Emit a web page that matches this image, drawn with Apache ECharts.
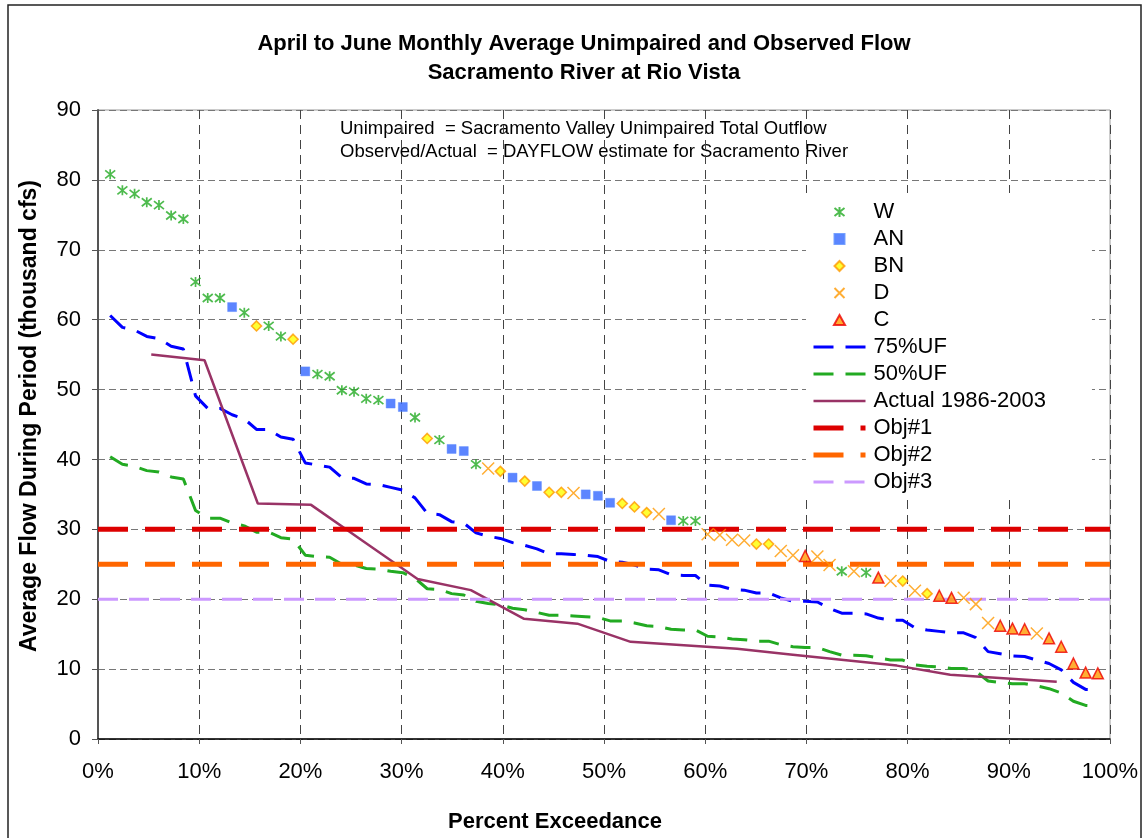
<!DOCTYPE html>
<html>
<head>
<meta charset="utf-8">
<script src="https://cdn.jsdelivr.net/npm/echarts@6/dist/echarts.min.js"></script>
<style>
html,body{margin:0;padding:0;background:#fff;}
#chart{width:1145px;height:838px;}
</style>
</head>
<body>
<div id="chart"></div>
<script>
// ---- data ----
const yearType = [
 'W','W','W','W','W','W','W','W','W','W',
 'AN','W','BN','W','W','BN','AN','W','W','W',
 'W','W','W','AN','AN','W','BN','W','AN','AN',
 'W','D','BN','AN','BN','AN','BN','BN','D','AN',
 'AN','AN','BN','BN','BN','D','AN','W','W','D',
 'D','D','D','BN','BN','D','D','C','D','D',
 'W','D','W','C','D','BN','D','BN','C','C',
 'D','D','D','C','C','C','D','C','C','C',
 'C','C'
];
const unimpaired = [
 80.8,78.5,78.0,76.8,76.4,74.9,74.4,65.4,63.1,63.1,
 61.8,61.0,59.1,59.1,57.6,57.2,52.6,52.2,51.9,49.9,
 49.7,48.7,48.5,48.0,47.5,46.0,43.0,42.8,41.5,41.2,
 39.3,38.7,38.3,37.4,36.9,36.2,35.3,35.3,35.2,35.0,
 34.8,33.8,33.7,33.2,32.4,32.2,31.3,31.2,31.2,29.3,
 29.2,28.5,28.4,27.9,27.9,26.9,26.3,26.2,26.1,24.9,
 24.0,24.0,23.8,23.1,22.6,22.6,21.2,20.8,20.5,20.2,
 20.2,19.3,16.6,16.2,15.8,15.7,15.1,14.4,13.2,10.8,
 9.5,9.4
];
const uf75 = [
 60.6,58.9,58.5,57.6,57.3,56.2,55.8,49.1,47.3,47.3,
 46.4,45.8,44.3,44.3,43.2,42.9,39.5,39.2,38.9,37.4,
 37.3,36.5,36.4,36.0,35.6,34.5,32.3,32.1,31.1,30.9,
 29.5,29.0,28.7,28.1,27.7,27.2,26.5,26.5,26.4,26.3,
 26.1,25.4,25.3,24.9,24.3,24.2,23.5,23.4,23.4,22.0,
 21.9,21.4,21.3,20.9,20.9,20.2,19.7,19.7,19.6,18.7,
 18.0,18.0,17.9,17.3,17.0,17.0,15.9,15.6,15.4,15.2,
 15.2,14.5,12.5,12.2,11.9,11.8,11.3,10.8,9.9,8.1,
 7.1,7.1
];
const uf50 = [
 40.4,39.3,39.0,38.4,38.2,37.5,37.2,32.7,31.6,31.6,
 30.9,30.5,29.6,29.6,28.8,28.6,26.3,26.1,26.0,25.0,
 24.9,24.4,24.3,24.0,23.8,23.0,21.5,21.4,20.8,20.6,
 19.7,19.4,19.2,18.7,18.5,18.1,17.7,17.7,17.6,17.5,
 17.4,16.9,16.9,16.6,16.2,16.1,15.7,15.6,15.6,14.7,
 14.6,14.3,14.2,14.0,14.0,13.5,13.2,13.1,13.1,12.5,
 12.0,12.0,11.9,11.6,11.3,11.3,10.6,10.4,10.3,10.1,
 10.1,9.7,8.3,8.1,7.9,7.9,7.6,7.2,6.6,5.4,
 4.8,4.7
];
const actual = [55.0,54.2,33.7,33.5,28.2,22.9,21.3,17.2,16.5,13.9,13.4,12.9,12.1,11.3,10.5,9.2,8.7,8.2];
const objNames = ['Obj#1','Obj#2','Obj#3'];
const objValues = [30,25,20];
const typeNames = ['W','AN','BN','D','C'];
const xRange = [0,100];

// ---- build ----
const exceed = (i,n) => (i+1)/(n+1)*100;
const FONT = "'Liberation Sans', Arial, sans-serif";

const typeStyle = {
  W:  {symbol:'path://M0 1L10 9M10 1L0 9M5 0L5 10', symbolSize:10, itemStyle:{color:'none',borderColor:'#22aa22',borderWidth:1.7}},
  AN: {symbol:'path://M0 0H10V10H0Z', symbolSize:9, itemStyle:{color:'#3366ff',borderColor:'#5588ff',borderWidth:0.5}},
  BN: {symbol:'path://M5 0L10 5L5 10L0 5Z', symbolSize:10, itemStyle:{color:'#ffff00',borderColor:'#ff9900',borderWidth:1.6}},
  D:  {symbol:'path://M0 0L10 10M10 0L0 10', symbolSize:12, itemStyle:{color:'none',borderColor:'#ff9900',borderWidth:1.5}},
  C:  {symbol:'path://M5 0L10 9L0 9Z', symbolSize:11, itemStyle:{color:'#ff9900',borderColor:'#ee0000',borderWidth:1.5}}
};

const lineDefs = [
  {name:'75%UF', data:uf75, style:{color:'#0000ff', width:3, type:[20,12]}},
  {name:'50%UF', data:uf50, style:{color:'#22aa22', width:3, type:[20,12]}},
  {name:'Actual 1986-2003', data:actual, style:{color:'#993366', width:2.5, type:'solid'}}
];
const objStyles = [
  {color:'#dd0000', width:5, type:[30,17]},
  {color:'#ff6600', width:5, type:[30,17]},
  {color:'#cc99ff', width:3, type:[20,11]}
];

const series = [];
const legendLineItems = [];
lineDefs.forEach(d=>{
  series.push({name:d.name, type:'line', symbol:'none', z:2, color:d.style.color,
    data: d.data.map((v,i)=>[exceed(i,d.data.length), v]),
    lineStyle:d.style});
  legendLineItems.push({name:d.name, itemStyle:{opacity:0, color:'rgba(0,0,0,0)', borderWidth:0}, lineStyle:Object.assign({}, d.style)});
});
objNames.forEach((nm,k)=>{
  series.push({name:nm, type:'line', symbol:'none', z:2, color:objStyles[k].color,
    data: xRange.map(x=>[x, objValues[k]]),
    lineStyle: objStyles[k]});
  legendLineItems.push({name:nm, itemStyle:{opacity:0, color:'rgba(0,0,0,0)', borderWidth:0}, lineStyle:Object.assign({}, objStyles[k])});
});
typeNames.forEach(t=>{
  const pts = [];
  unimpaired.forEach((v,i)=>{ if(yearType[i]===t) pts.push([exceed(i,unimpaired.length), v]); });
  series.push(Object.assign({name:t, type:'scatter', z:5, data:pts}, typeStyle[t]));
});

const chart = echarts.init(document.getElementById('chart'), null, {renderer:'canvas'});
chart.setOption({
  animation:false,
  backgroundColor:'#fff',
  textStyle:{fontFamily:FONT},
  grid:{left:98, right:35, top:110, bottom:99, show:true, borderColor:'#999', borderWidth:1, backgroundColor:'transparent'},
  xAxis:{type:'value', min:0, max:100, interval:10,
    axisLine:{lineStyle:{color:'#000', width:1.5}},
    axisTick:{show:true, length:5, inside:false, lineStyle:{color:'#555'}},
    axisLabel:{formatter:'{value}%', fontSize:22, color:'#000', margin:22, fontFamily:FONT},
    splitLine:{show:true, lineStyle:{color:'#444', type:[9,6], width:1}}
  },
  yAxis:{type:'value', min:0, max:90, interval:10,
    axisLine:{show:true, lineStyle:{color:'#555', width:2}},
    axisTick:{show:true, length:6, lineStyle:{color:'#555'}},
    axisLabel:{fontSize:22, color:'#000', margin:17, fontFamily:FONT},
    splitLine:{show:true, lineStyle:{color:'#777', type:[7,4], width:1}}
  },
  legend:{
    orient:'vertical', left:806, top:193,
    backgroundColor:'#fff',
    padding:[8,46,6,5],
    itemWidth:52, itemHeight:10, itemGap:5,
    textStyle:{fontSize:22, lineHeight:22, color:'#000', fontFamily:FONT, padding:[0,0,0,3]},
    data:typeNames.map(t=>({name:t})).concat(legendLineItems)
  },
  graphic:[
    {type:'rect', z:-10, shape:{x:8, y:5, width:1133, height:845}, style:{fill:'none', stroke:'#222', lineWidth:1.5}},
    {type:'text', x:584, y:44, style:{text:'April to June Monthly Average Unimpaired and Observed Flow', font:'bold 22px '+FONT, fill:'#000', textAlign:'center', textVerticalAlign:'middle'}},
    {type:'text', x:584, y:73, style:{text:'Sacramento River at Rio Vista', font:'bold 22px '+FONT, fill:'#000', textAlign:'center', textVerticalAlign:'middle'}},
    {type:'text', x:340, y:129, style:{text:'Unimpaired  = Sacramento Valley Unimpaired Total Outflow', font:'18.5px '+FONT, fill:'#000', textVerticalAlign:'middle'}},
    {type:'text', x:340, y:152, style:{text:'Observed/Actual  = DAYFLOW estimate for Sacramento River', font:'18.5px '+FONT, fill:'#000', textVerticalAlign:'middle'}},
    {type:'text', x:555, y:822, style:{text:'Percent Exceedance', font:'bold 22px '+FONT, fill:'#000', textAlign:'center', textVerticalAlign:'middle'}},
    {type:'text', x:30, y:416, rotation:Math.PI/2, style:{text:'Average Flow During Period (thousand cfs)', font:'bold 23px '+FONT, fill:'#000', textAlign:'center', textVerticalAlign:'middle'}}
  ],
  series: series
});
</script>
</body>
</html>
